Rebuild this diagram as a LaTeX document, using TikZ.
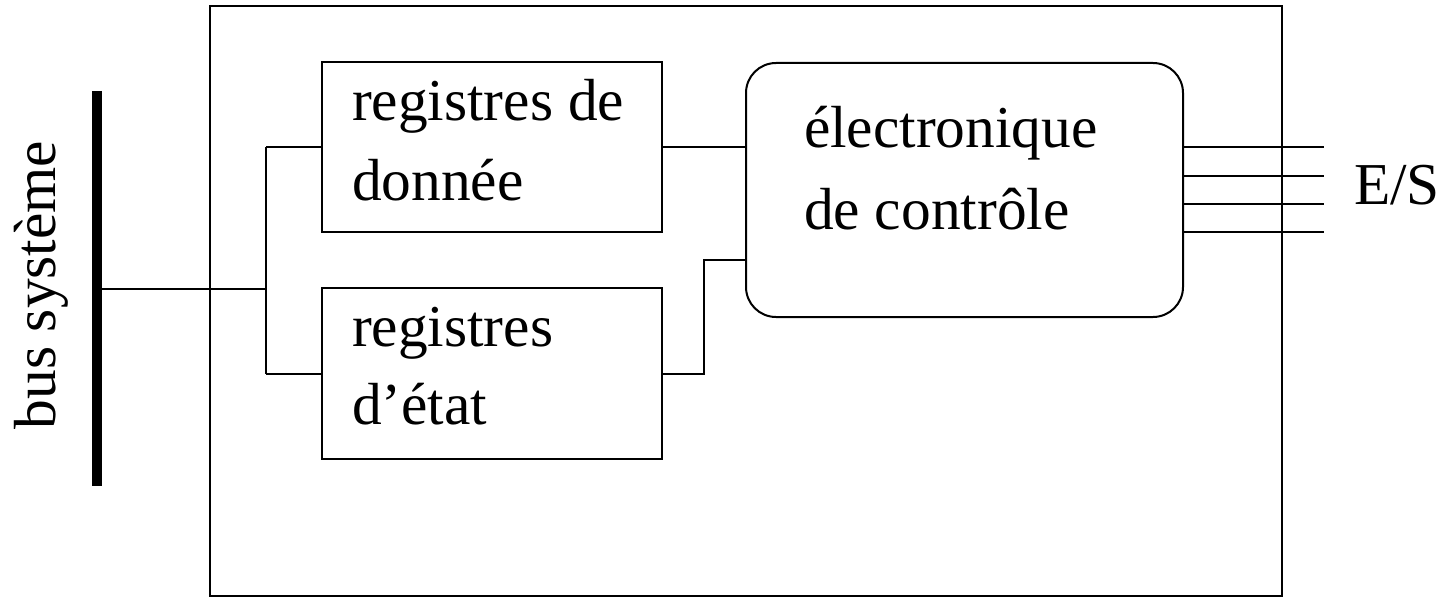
\documentclass[tikz,border=0pt]{standalone}
\usepackage{fontspec}
\setmainfont{Liberation Serif}
\begin{document}
\begin{tikzpicture}[x=0.5pt,y=-0.5pt,
  line width=1pt,
  box/.style={draw,inner sep=0pt,outer sep=0pt},
  lbl/.style={inner sep=0pt,anchor=base west,font=\fontsize{29.7}{40}\selectfont},
  wire/.style={draw,line width=1pt}]
\useasboundingbox (0,0) rectangle (1445,599);

% controller enclosure
\node[box,minimum width=536pt,minimum height=295pt] (outer) at (746,301) {};

% internal blocks
\node[box,minimum width=170pt,minimum height=85pt] (data) at (492,147) {};
\node[box,minimum width=170pt,minimum height=85.5pt] (state) at (492,373.5) {};
\node[box,rounded corners=15pt,minimum width=218.5pt,minimum height=127pt] (ctrl) at (964.5,190) {};

% block labels
\node[lbl] (tdata) at (351,120) {\begin{tabular}[t]{@{}l@{}}registres de\\donnée\end{tabular}};
\node[lbl] (tstate) at (351,346) {\begin{tabular}[t]{@{}l@{}}registres\\[-1pt]d’état\end{tabular}};
\node[lbl] (tctrl) at (803,148) {\begin{tabular}[t]{@{}l@{}}électronique\\[1pt]de contrôle\end{tabular}};
\node[lbl] (tio) at (1353,204) {E/S};

% system bus
\coordinate (bustop) at (97,91);
\coordinate (busbot) at (97,486);
\draw[line width=5pt] (bustop) -- (busbot);
\node[inner sep=0pt,anchor=base,rotate=90,font=\fontsize{29.7}{40}\selectfont] (tbus) at (55,285) {bus système};

% bus to registers
\coordinate (bustap) at (97,289);
\coordinate (split) at (266,289);
\coordinate (splittop) at (266,147);
\coordinate (splitbot) at (266,373.5);
\draw (bustap) -- (split);
\draw (splittop) -- (splitbot);
\draw (splittop) -- (data.west);
\draw (splitbot) -- (state.west);

% registers to control logic
\draw (data.east) -- (data.east -| ctrl.west);
\coordinate (bend) at (704,260);
\draw (state.east) -| (bend) -- (bend -| ctrl.west);

% I/O lines
\foreach \yy/\nm in {147/a,176/b,204/c,232/d}{
  \coordinate (io\nm) at (1324,\yy);
  \draw (io\nm -| ctrl.east) -- (io\nm);
}
\end{tikzpicture}
\end{document}
